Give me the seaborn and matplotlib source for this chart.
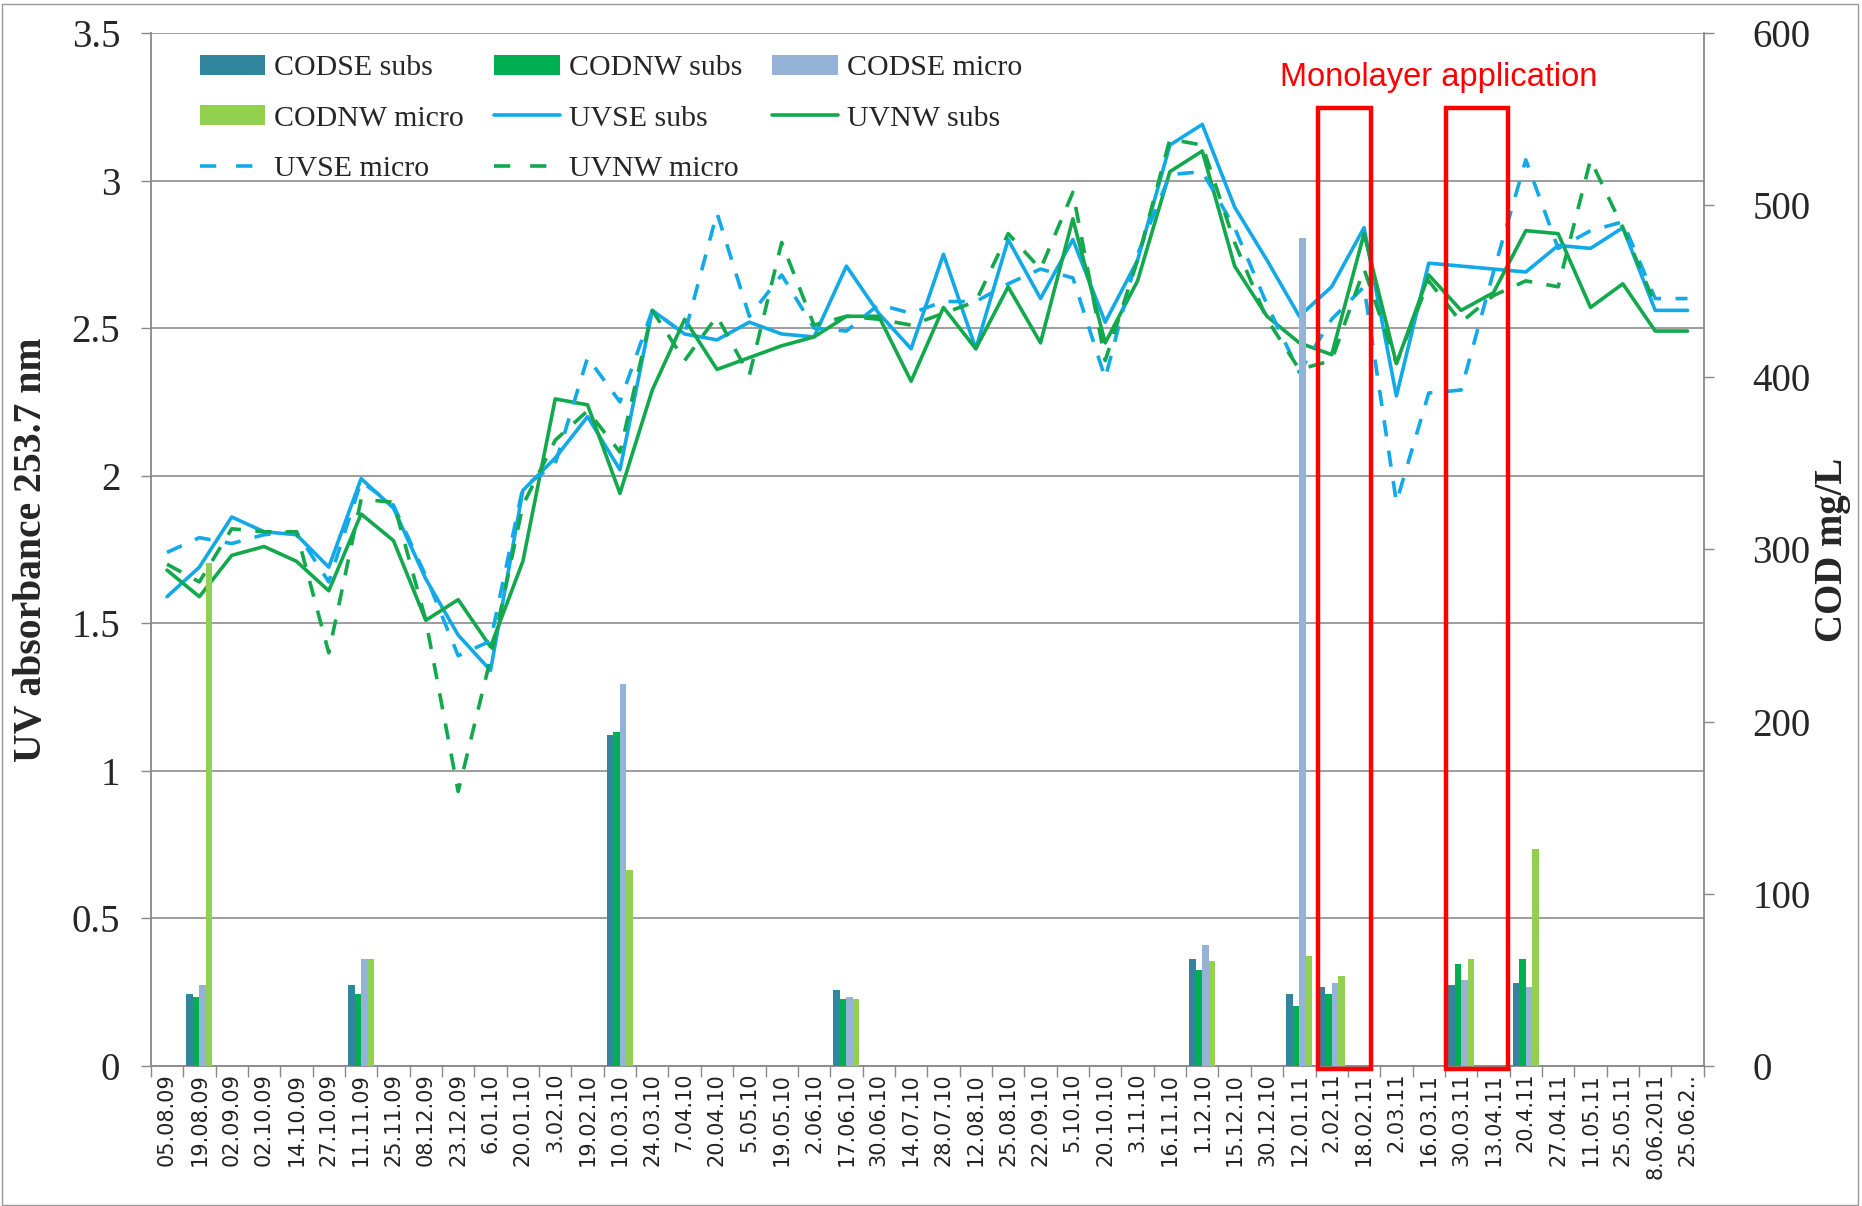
import matplotlib
matplotlib.use('Agg')
import matplotlib.pyplot as plt
from matplotlib.patches import Rectangle, Patch
from matplotlib.lines import Line2D
from matplotlib.ticker import FuncFormatter
import numpy as np
import pandas as pd
import seaborn as sns

# sampling dates (category axis)
dates = ['05.08.09', '19.08.09', '02.09.09', '02.10.09', '14.10.09', '27.10.09',
         '11.11.09', '25.11.09', '08.12.09', '23.12.09', '6.01.10', '20.01.10',
         '3.02.10', '19.02.10', '10.03.10', '24.03.10', '7.04.10', '20.04.10',
         '5.05.10', '19.05.10', '2.06.10', '17.06.10', '30.06.10', '14.07.10',
         '28.07.10', '12.08.10', '25.08.10', '22.09.10', '5.10.10', '20.10.10',
         '3.11.10', '16.11.10', '1.12.10', '15.12.10', '30.12.10', '12.01.11',
         '2.02.11', '18.02.11', '2.03.11', '16.03.11', '30.03.11', '13.04.11',
         '20.4.11', '27.04.11', '11.05.11', '25.05.11', '8.06.2011', '25.06.2..']

# UV absorbance at 253.7 nm (left axis)
uvse_subs = [1.59, 1.69, 1.86, 1.81, 1.80, 1.69, 1.99, 1.89, 1.65, 1.46, 1.34, 1.95,
             2.06, 2.20, 2.02, 2.56, 2.48, 2.46, 2.52, 2.48, 2.47, 2.71, 2.55, 2.43,
             2.75, 2.43, 2.80, 2.60, 2.80, 2.52, 2.73, 3.12, 3.19, 2.91, 2.73, 2.54,
             2.64, 2.84, 2.27, 2.72, 2.71, 2.70, 2.69, 2.78, 2.77, 2.84, 2.56, 2.56]
uvnw_subs = [1.68, 1.59, 1.73, 1.76, 1.71, 1.61, 1.87, 1.78, 1.51, 1.58, 1.42, 1.71,
             2.26, 2.24, 1.94, 2.29, 2.53, 2.36, 2.40, 2.44, 2.47, 2.54, 2.54, 2.32,
             2.57, 2.43, 2.64, 2.45, 2.87, 2.45, 2.66, 3.03, 3.10, 2.71, 2.54, 2.45,
             2.41, 2.82, 2.38, 2.68, 2.56, 2.62, 2.83, 2.82, 2.57, 2.65, 2.49, 2.49]
uvse_micro = [1.74, 1.79, 1.77, 1.80, 1.81, 1.64, 1.98, 1.90, 1.66, 1.39, 1.44, 1.96,
              2.04, 2.40, 2.25, 2.56, 2.48, 2.89, 2.54, 2.68, 2.50, 2.49, 2.58, 2.55,
              2.59, 2.59, 2.65, 2.70, 2.67, 2.33, 2.75, 3.02, 3.03, 2.84, 2.58, 2.35,
              2.53, 2.64, 1.91, 2.28, 2.29, 2.69, 3.07, 2.77, 2.83, 2.86, 2.60, 2.60]
uvnw_micro = [1.70, 1.64, 1.82, 1.81, 1.81, 1.40, 1.92, 1.91, 1.51, 0.93, 1.38, 1.90,
              2.12, 2.22, 2.08, 2.56, 2.39, 2.54, 2.34, 2.79, 2.51, 2.54, 2.53, 2.51,
              2.55, 2.59, 2.82, 2.70, 2.96, 2.39, 2.73, 3.14, 3.12, 2.79, 2.53, 2.36,
              2.39, 2.70, 2.38, 2.66, 2.52, 2.61, 2.66, 2.64, 3.07, 2.84, 2.58, np.nan]

# COD mg/L (right axis), only measured on some dates
cod_dates = ['19.08.09', '11.11.09', '10.03.10', '17.06.10', '1.12.10',
             '12.01.11', '2.02.11', '30.03.11', '20.4.11']
codse_subs = [42, 47, 192, 44, 62, 42, 46, 47, 48]
codnw_subs = [40, 42, 194, 39, 56, 35, 42, 59, 62]
codse_micro = [47, 62, 222, 40, 70, 481, 48, 50, 46]
codnw_micro = [292, 62, 114, 39, 61, 64, 52, 62, 126]

# monolayer application periods (category index ranges) and label
mono_boxes = [(35.57, 37.23), (39.54, 41.45)]
mono_top = 3.245

cod_names = ['CODSE subs', 'CODNW subs', 'CODSE micro', 'CODNW micro']
cod_colors = {'CODSE subs': '#31859C', 'CODNW subs': '#00B050',
              'CODSE micro': '#95B3D7', 'CODNW micro': '#92D050'}
uv_names = ['UVSE subs', 'UVNW subs', 'UVSE micro', 'UVNW micro']
uv_colors = {'UVSE subs': '#12A9E8', 'UVNW subs': '#12A84C',
             'UVSE micro': '#12A9E8', 'UVNW micro': '#12A84C'}
uv_dashes = {'UVSE subs': '', 'UVNW subs': '', 'UVSE micro': (4.5, 4), 'UVNW micro': (4.5, 4)}

sns.set_theme(style='white')
plt.rcParams['font.family'] = ['Liberation Serif', 'DejaVu Serif']

fig = plt.figure(figsize=(18.62, 12.06), dpi=100)
ax = fig.add_axes([0.081, 0.1161, 0.834, 0.8566])
ax2 = ax.twinx()

x = np.arange(len(dates))
uv_df = pd.DataFrame({'pos': x, 'UVSE subs': uvse_subs, 'UVNW subs': uvnw_subs,
                      'UVSE micro': uvse_micro, 'UVNW micro': uvnw_micro})
uv_df = uv_df.melt(id_vars='pos', var_name='series', value_name='uv').dropna()
sns.lineplot(data=uv_df, x='pos', y='uv', hue='series', style='series',
             hue_order=uv_names, style_order=uv_names, palette=uv_colors,
             dashes=uv_dashes, linewidth=2.6, errorbar=None, ax=ax, legend=False)

cod_pos = [dates.index(d) for d in cod_dates]
cod_df = pd.DataFrame({'pos': cod_pos, 'CODSE subs': codse_subs, 'CODNW subs': codnw_subs,
                       'CODSE micro': codse_micro, 'CODNW micro': codnw_micro})
cod_df = cod_df.melt(id_vars='pos', var_name='series', value_name='cod')
sns.barplot(data=cod_df, x='pos', y='cod', hue='series', hue_order=cod_names,
            palette=cod_colors, native_scale=True, width=0.8, saturation=1,
            errorbar=None, linewidth=0, ax=ax2, legend=False)

# axes ranges & ticks
ax.set_xlim(-0.5, len(dates) - 0.5)
ax.set_ylim(0, 3.5)
ax2.set_ylim(0, 600)
ax.set_yticks(np.arange(0, 3.51, 0.5))
ax2.set_yticks(np.arange(0, 601, 100))
ax.yaxis.set_major_formatter(FuncFormatter(lambda v, p: '%g' % v))
ax2.yaxis.set_major_formatter(FuncFormatter(lambda v, p: '%g' % v))
ax.set_xticks(x)
ax.set_xticklabels(dates, rotation=90, fontsize=15, family='DejaVu Sans', color='#222222')
ax.set_xticks(np.arange(-0.5, len(dates), 1), minor=True)
ax.tick_params(axis='x', which='major', length=0, pad=5)
ax.tick_params(axis='x', which='minor', length=8, width=1, color='#888888', direction='out', bottom=True)
ax.tick_params(axis='y', length=7, width=1, color='#888888', direction='out', labelsize=28, pad=15, left=True)
ax2.tick_params(axis='y', length=7, width=1, color='#888888', direction='out', labelsize=28, pad=28, right=True)
ax.set_xlabel('')
ax2.set_xlabel('')

ax.yaxis.grid(True, color='#8c8c8c', linewidth=1.2)
ax.xaxis.grid(False)
ax2.grid(False)
ax.set_axisbelow(True)

for s in ['top', 'right']:
    ax.spines[s].set_visible(False)
for s in ['top', 'left', 'bottom']:
    ax2.spines[s].set_visible(False)
for sp in [ax.spines['left'], ax.spines['bottom'], ax2.spines['right']]:
    sp.set_color('#888888')
    sp.set_linewidth(1.3)

ax.set_ylabel('UV absorbance 253.7 nm', fontsize=28.5, fontweight='bold')
ax.yaxis.set_label_coords(-0.065, 0.5)
ax2.set_ylabel('COD mg/L', fontsize=28, fontweight='bold')
ax2.yaxis.set_label_coords(1.071, 0.5)

# monolayer application boxes
for x0, x1 in mono_boxes:
    ax2.add_patch(Rectangle((x0, -0.01), x1 - x0, mono_top + 0.01, transform=ax.transData,
                            fill=False, edgecolor='#FF0000', linewidth=3.2, clip_on=False, zorder=10))
ax.text(39.3, 3.35, 'Monolayer application', color='#FF0000', fontsize=23.5,
        family='Liberation Sans', ha='center', va='center')

# legend (row-major order like the original)
def bar_h(n):
    return Patch(facecolor=cod_colors[n], edgecolor='none', label=n)

def line_h(n):
    ls = '-' if uv_dashes[n] == '' else (0, (4.5, 5.5))
    return Line2D([], [], color=uv_colors[n], linewidth=2.6, linestyle=ls, label=n)

handles = [bar_h('CODSE subs'), bar_h('CODNW micro'), line_h('UVSE micro'),
           bar_h('CODNW subs'), line_h('UVSE subs'), line_h('UVNW micro'),
           bar_h('CODSE micro'), line_h('UVNW subs')]
ax2.legend(handles=handles, ncol=3, loc='upper left', bbox_to_anchor=(0.0315, 0.979),
           frameon=False, fontsize=21.5, handlelength=2.2, handleheight=0.65,
           handletextpad=0.3, columnspacing=1.0, labelspacing=0.81,
           borderaxespad=0, borderpad=0)

fig.patches.append(Rectangle((0.001, 0.001), 0.997, 0.996, transform=fig.transFigure,
                             fill=False, edgecolor='#999999', linewidth=1))

fig.savefig('out.png', dpi=100)
